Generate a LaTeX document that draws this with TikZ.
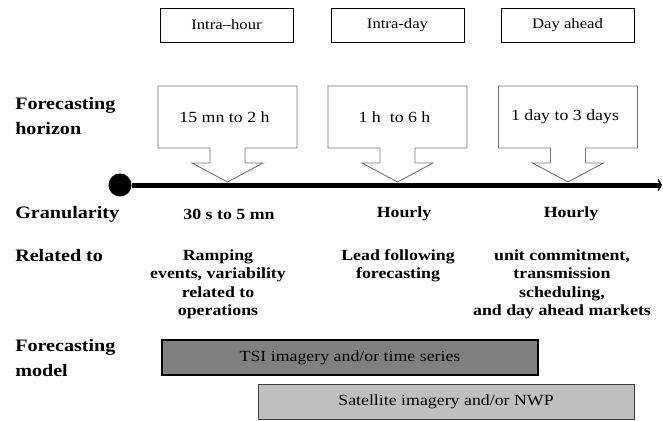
\documentclass[tikz,border=0pt]{standalone}
\usepackage{fontspec}
\setmainfont[FakeStretch=1.15]{Liberation Serif}
\usepackage{tikz}
\usetikzlibrary{arrows.meta,positioning,calc}
\tikzset{
    >={Straight Barb[length=3pt,width=11pt,line width=1.5pt]},
    every picture/.style={line width=0.5pt},
    period/.style={draw,line width=0.8pt,minimum width=133pt,minimum height=34pt,inner sep=0pt,font=\fontsize{14.5}{17}\selectfont},
    callout/.style={draw=black!55,line width=0.9pt},
    horizon/.style={font=\fontsize{15.5}{18}\selectfont},
    rowlabel/.style={anchor=west,align=left,inner sep=0pt,font=\fontsize{17.5}{24.5}\selectfont\bfseries},
    rowtext/.style={align=center,inner sep=0pt,font=\fontsize{15.5}{18.5}\selectfont\bfseries},
    model/.style={draw,minimum width=376pt,minimum height=35pt,inner sep=0pt,font=\fontsize{15.5}{18}\selectfont}
}

\begin{document}
\begin{tikzpicture}[x=1pt,y=-1pt]
        \useasboundingbox (0,0) rectangle (663,420);
        % Periods
        \foreach \cx/\name/\txt in {226.5/hour/Intra--hour, 397.5/day/Intra-day, 567.5/ahead/Day ahead}
            \node[period] (\name) at (\cx,25) {\txt};

        % Horizon callouts
        \foreach \cx/\name/\txt in {
            227.5/hz1/{15 mn to 2 h}, 397.5/hz2/{1 h~ to 6 h}, 568/hz3/{1 day to 3 days}
        } {
            \draw[callout] (\cx-17.5,148) -- (\cx-69.5,148) -- (\cx-69.5,86) -- (\cx+69.5,86)
                -- (\cx+69.5,148) -- (\cx+17.5,148) -- (\cx+17.5,163) -- (\cx+35.5,163)
                -- (\cx,182) -- (\cx-35.5,163) -- (\cx-17.5,163) -- cycle;
            \node[horizon] (\name) at (\cx-3,117) {\txt};
        }

        % Time line
        \node[circle,fill,inner sep=0pt,minimum size=23pt] (start) at (120,185) {};
        \coordinate (tlend) at (662,185);
        \draw[line width=5pt,->] (start) -- (tlend);

        % Row labels
        \node[rowlabel] (fh) at (15,116) {Forecasting\\horizon};
        \node[rowlabel] (gr) at (15,214) {Granularity};
        \node[rowlabel] (rel) at (15,256) {Related to};
        \node[rowlabel] (fm) at (15,358) {Forecasting\\model};

        % Granularity
        \node[rowtext] (g1) at (229,214) {30 s to 5 mn};
        \node[rowtext] (g2) at (404,214) {Hourly};
        \node[rowtext] (g3) at (571,214) {Hourly};

        % Applications
        \node[rowtext,anchor=north] (r1) at (218,249) {Ramping\\events, variability\\related to\\operations};
        \node[rowtext,anchor=north] (r2) at (398,249) {Lead following\\forecasting};
        \node[rowtext,anchor=north] (r3) at (562,249) {unit commitment,\\transmission\\scheduling,\\and day ahead markets};

        % Models
        \node[model,fill=black!50,line width=1.5pt] (tsi) at (350,357.5) {TSI imagery and/or time series};
        \node[model,fill=black!25,draw=black!75,line width=1pt] (sat) at (446,401.5) {Satellite imagery and/or NWP};
    \end{tikzpicture}
\end{document}
